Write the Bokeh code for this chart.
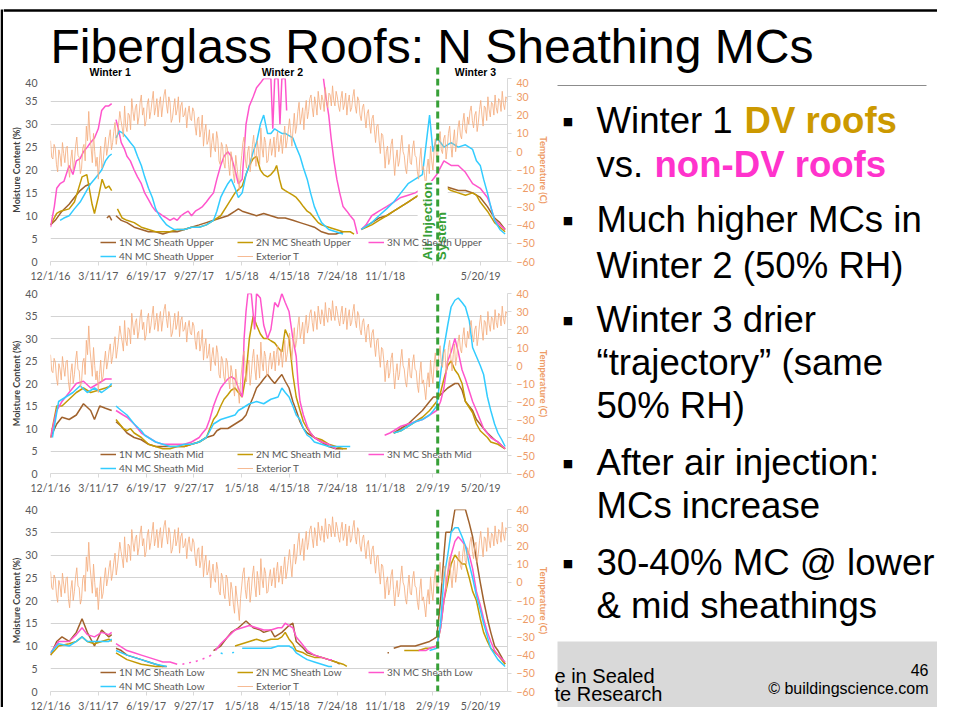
import math
from bokeh.plotting import figure
from bokeh.models import (Range1d, LinearAxis, FixedTicker, Legend, LegendItem,
                          Label, BoxAnnotation, Span)
from bokeh.layouts import column, row
from bokeh.embed import file_html
from bokeh.resources import INLINE
from bokeh.core.properties import value

N = None  # gap in a record

# ---------------- data (x = days since 12/1/16) ----------------
TICK_DAYS = [0, 100, 200, 300, 400, 500, 600, 700, 800, 900]
TICK_LABELS = ["12/1/16", "3/11/17", "6/19/17", "9/27/17", "1/5/18",
               "4/15/18", "7/24/18", "11/1/18", "2/9/19", "5/20/19"]
MC_TICKS = [0, 5, 10, 15, 20, 25, 30, 35, 40]
TEMP_TICKS = [-60, -50, -40, -30, -20, -10, 0, 10, 20, 30, 40]
DAY_MAX = 956
AIR_INJECTION_DAY = 810
WINTER_LABELS = ["Winter 1", "Winter 2", "Winter 3"]
WINTER_DAYS = [125, 485, 889]

# exterior temperature, readings every 5 days (temp_ext) and in between (temp_ext_mid)
temp_ext = [(0,6),(5,-4),(10,2),(15,-11),(20,-2),(25,5),(30,-6),(35,3),(40,-14),(45,1),(50,-5),(55,8),
            (60,-3),(65,-9),(70,4),(75,14),(80,22),(85,2),(90,10),(95,-8),(100,-15),(105,3),(110,-6),
            (115,8),(120,2),(125,12),(130,5),(135,16),(140,9),(145,22),(150,13),(155,25),(160,11),
            (165,20),(170,29),(175,17),(180,26),(185,19),(190,31),(195,24),(200,17),(205,29),(210,22),
            (215,33),(220,24),(225,19),(230,30),(235,25),(240,34),(245,21),(250,27),(255,18),(260,29),
            (265,23),(270,16),(275,27),(280,20),(285,13),(290,25),(295,17),(300,22),(305,9),(310,19),
            (315,12),(320,3),(325,15),(330,6),(335,-3),(340,10),(345,0),(350,7),(355,-7),(360,3),
            (365,-9),(370,2),(375,-13),(380,-4),(385,-17),(390,-8),(395,-21),(400,-2),(405,8),(410,-9),
            (415,3),(420,-5),(425,9),(430,-8),(435,1),(440,13),(445,-3),(450,5),(455,-5),(460,7),
            (465,2),(470,-3),(475,11),(480,4),(485,-1),(490,14),(495,6),(500,18),(505,3),(510,21),
            (515,14),(520,27),(525,19),(530,12),(535,28),(540,22),(545,31),(550,19),(555,26),(560,33),
            (565,23),(570,28),(575,35),(580,24),(585,31),(590,36),(595,25),(600,30),(605,22),(610,33),
            (615,26),(620,20),(625,31),(630,24),(635,34),(640,21),(645,28),(650,17),(655,26),(660,13),
            (665,23),(670,10),(675,20),(680,5),(685,15),(690,-1),(695,9),(700,-9),(705,3),(710,-4),
            (715,7),(720,-13),(725,1),(730,-5),(735,9),(740,-2),(745,-12),(750,4),(755,-7),(760,6),
            (765,-3),(770,-15),(775,2),(780,-8),(785,-19),(790,-4),(795,3),(800,-10),(805,7),(810,-2),
            (815,11),(820,-1),(825,9),(830,2),(835,14),(840,-3),(845,12),(850,5),(855,17),(860,7),
            (865,21),(870,10),(875,15),(880,25),(885,13),(890,22),(895,16),(900,28),(905,14),(910,24),
            (915,30),(920,19),(925,26),(930,31),(935,21),(940,28),(945,33),(950,23),(955,29)]
temp_ext_mid = [-3,4,-7,1,-8,-1,2,-9,-4,-10,3,-2,
                -12,2,-5,6,9,-6,0,-3,-5,-9,2,-2,
                8,1,11,4,15,17,8,14,21,12,22,24,
                15,27,20,14,26,18,28,20,29,26,19,31,
                26,30,16,24,20,30,25,19,24,21,18,24,
                14,18,8,20,11,4,12,5,2,11,-5,5,
                -6,4,-7,0,-12,-2,-14,-9,5,-4,0,-11,
                4,-2,6,-7,2,8,-6,3,-2,8,6,0,
                9,7,2,12,10,13,10,22,15,24,22,18,
                29,24,30,20,27,31,22,27,32,25,28,33,
                25,29,23,32,27,22,30,25,30,20,24,19,
                21,15,18,12,14,6,10,2,0,-7,4,-4,
                -4,-8,3,0,-9,-3,-6,2,-2,-11,-4,-10,
                -13,-9,-12,-5,1,-3,6,1,7,-4,10,4,
                6,0,13,9,16,12,19,22,17,20,11,23,
                20,25,17,23,27,20,24,29,22,26,30,25]

# Upper sheathing
up_1n = [(0,8),(10,9),(24,11),(39,12.5),(50,14),(62,15.5),(73,16.5),(84,17),(90,N),
         (118,9.5),(123,10),(128,9),(130,N),
         (137,10),(148,9),(160,8.5),(175,7.5),(190,7),(205,6.5),(220,6.5),(235,6),(250,6.5),(265,6.5),
         (280,7),(295,7.5),(311,8),(326,8.5),(341,9),(356,9.5),(371,10),(386,11),(393,11.5),(401,11),
         (416,10.5),(431,10),(446,10.5),(461,10),(476,9.5),(491,9.5),(507,9),(522,8.5),(537,8),(552,7.5),
         (567,6.5),(582,6),(597,6),(612,6.5),(620,N),
         (650,7),(672,8.5),(687,9.5),(703,10),(718,11),(733,12),(748,13),(763,14),(778,15),(793,15.5),
         (808,16),(823,16.5),(838,16),(853,15.5),(868,15.5),(883,15),(899,14),(914,12),(929,9.5),
         (940,8.5),(951,7)]
up_2n = [(0,8),(13,10.5),(21,11),(39,11.5),(50,13),(56,15),(66,18.5),(76,19),(87,12.5),(92,10.5),
         (101,14.5),(108,18),(115,16),(122,16.5),(128,15.5),(132,N),
         (140,11.5),(150,9.5),(160,9),(175,8.5),(190,7.5),(205,7),(220,6.5),(235,6.5),(250,6.5),(265,7),
         (280,7),(295,7.5),(311,7.5),(326,8),(341,9),(356,10),(371,12.5),(386,15),(401,16.5),(409,19),
         (416,21),(424,22.5),(431,23),(439,20),(446,19),(454,18.5),(461,19),(469,20),(473,21),(479,18),
         (484,16),(491,15.5),(499,15),(507,14.5),(514,14),(522,13),(529,12),(537,11),(544,10.5),(552,9.5),
         (560,8.5),(567,8),(582,7.5),(597,7),(612,6.5),(627,6.5),(635,6),(640,N),
         (650,7),(672,8),(687,9),(703,10),(718,11),(733,12),(748,13),(763,14),(778,15),(793,16),
         (808,16.5),(823,16.5),(838,15.5),(853,15),(868,14.5),(883,15),(891,14.5),(899,13),(914,11),
         (929,8.5),(940,7.5),(951,6.5)]
up_3n = [(0,7.5),(8,12),(13,16),(20,17),(28,17.5),(39,21),(47,19),(54,22),(62,22.5),(69,24),(77,25),
         (84,26),(92,27),(100,29),(107,33),(115,34),(122,34),(128,34.5),(132,N),
         (137,31),(142,29),(148,26),(155,24.5),(160,23),(167,22),(175,20),(182,18.5),(190,17),(197,15),
         (205,13.5),(213,12),(220,11),(228,10.5),(235,10),(243,9.5),(250,9),(258,9.5),(265,9),(273,10),
         (280,10.5),(288,11),(295,10),(303,11),(311,11.5),(318,12),(326,13),(333,14),(341,15),(348,18),
         (356,21),(363,23),(371,24),(378,23),(386,20),(393,17),(401,18),(409,30),(416,34),(424,36),
         (431,38),(439,39),(446,40),(454,40),(461,40),(465,29),(469,40),(476,40),(480,30),(484,40),
         (491,40),(494,33),(495,N),
         (571,40),(576,36),(582,32),(587,27),(593,22),(599,18),(605,15),(612,12),(620,11),(627,10),
         (635,9),(642,6),(646,N),
         (650,7),(660,8),(672,10),(687,11),(703,12),(718,13),(733,14),(748,14.5),(763,15),(778,16),
         (793,17),(808,19),(823,22),(838,21),(853,21),(868,19.5),(883,17),(899,16),(914,14),(921,12),
         (929,9),(940,8),(951,7)]
up_4n = [(20,9),(28,9.5),(39,10),(50,11.5),(62,13),(73,15),(84,17),(92,18),(100,19),(107,20),(115,22),
         (122,23),(128,23.5),(132,N),
         (137,27),(144,28.5),(152,28),(160,27),(167,26),(175,25),(182,23),(190,21),(197,18.5),(205,16),
         (213,14),(220,11.5),(228,10),(235,9),(243,8),(250,7.5),(258,7),(265,7),(280,7),(295,7.5),
         (311,7.5),(326,8),(341,9),(348,11),(356,14),(363,15.5),(371,17),(378,18),(386,16),(393,14),
         (401,15),(409,19),(416,21),(424,24),(431,26),(439,30),(446,32),(454,28),(461,28),(469,29),
         (476,28.5),(484,28),(491,28),(499,27.5),(507,27),(514,25),(522,23),(529,20.5),(537,18),(544,15),
         (552,12),(560,10),(567,8.5),(582,7),(597,6.5),(612,6),(618,N),
         (650,7),(672,8.5),(687,10),(703,11.5),(718,13),(733,15),(748,17),(763,18),(778,19),(785,25),
         (793,32),(800,24),(808,27),(816,26),(823,25),(838,26),(853,25),(868,25.5),(883,24.5),(891,22),
         (899,21),(906,18),(914,15),(921,12),(929,9),(940,7),(951,6)]

# Mid sheathing
mid_1n = [(0,8),(13,11),(24,12.5),(39,12),(54,13),(69,15.5),(84,14),(92,12),(103,15),(115,14.5),(128,14),(132,N),
          (137,11.5),(148,10.5),(160,9),(175,8),(190,7.5),(205,6.5),(220,6),(235,6),(250,6),(265,6),(280,6),
          (295,6.5),(311,7),(326,8),(341,8.5),(348,9.5),(356,10),(371,10),(386,11),(401,12),(409,13),(416,15),
          (424,17),(431,19),(439,20),(446,21),(454,22),(461,21),(469,20),(476,21),(484,22),(491,20.5),(499,19),
          (507,16),(514,14),(522,11.5),(529,10),(537,9),(552,8),(567,7),(582,6),(597,5.5),(612,5.5),(615,N),
          (718,9),(733,10),(748,11),(763,12.5),(778,14),(793,16),(801,17),(808,17),(816,17.5),(831,19),
          (846,20),(853,20),(861,18.5),(868,16),(883,14),(891,12),(906,10),(914,9),(929,7.5),(936,7),(951,5.5)]
mid_2n = [(0,8),(13,15),(24,15),(39,16.5),(54,18),(69,19),(84,18),(100,18.5),(115,19),(128,19.5),(132,N),
          (137,12),(152,10),(160,9.5),(167,10),(175,9),(190,8),(205,6.5),(220,6),(235,5.5),(250,5.5),(265,6),
          (280,6),(295,6.5),(311,7),(326,8),(341,12),(348,13),(356,15),(363,16.5),(371,17.5),(378,18.5),
          (386,19),(393,18),(401,17),(409,22),(416,30),(424,35),(431,33),(439,31),(446,30),(454,30),
          (461,29.5),(469,29),(476,28),(484,27),(491,32),(499,30),(507,22),(514,17),(522,14),(529,11.5),
          (537,10),(544,9),(552,8),(567,7.5),(582,6.5),(597,6),(612,5.5),(620,5.5),(625,N),
          (718,9),(733,9.5),(748,10.5),(763,11.5),(778,12.5),(793,14),(808,16),(816,18),(823,21),(831,24),
          (838,25),(846,23),(853,22),(861,20),(868,16),(883,13.5),(891,11),(899,9.5),(914,8),(921,7),
          (936,6.5),(951,5.5)]
mid_3n = [(0,8),(13,14),(24,16),(39,18),(54,20),(69,20.5),(84,19),(100,20),(115,21),(128,21),(132,N),
          (137,14),(152,13),(160,12.5),(175,11),(190,9),(205,8),(220,7),(235,6.5),(250,6.5),(265,6.5),
          (280,6.5),(295,7),(311,8),(318,9),(326,10),(333,12),(341,15),(348,17),(356,19),(363,20),(371,21),
          (378,21.5),(386,21),(393,19),(401,17),(405,30),(409,36),(413,40),(420,40),(427,32),(431,40),
          (439,39),(446,33),(454,30),(461,32),(469,38),(476,37),(484,40),(491,38),(499,36),(507,30),
          (514,26),(518,20),(522,16),(529,13),(537,10.5),(544,9),(552,8),(567,7),(582,6.5),(589,6),(597,5.5),(600,N),
          (699,8.5),(710,9),(718,9.5),(733,10.5),(748,11),(763,11.5),(778,12),(793,13),(808,14),(816,16),
          (823,19),(831,25),(838,27),(846,30),(853,27),(861,23),(868,21),(883,16),(891,14),(906,10),
          (921,8),(936,7),(951,5.5)]
mid_4n = [(4,8),(17,16),(32,17),(47,18),(62,19.5),(77,18),(92,19),(107,18),(120,19),(128,20),(132,N),
          (137,15),(148,14),(160,13),(175,11),(190,9.5),(197,8.5),(220,7),(235,6.5),(250,6),(265,6),
          (280,6.5),(295,6.5),(311,7),(326,8),(341,11),(356,12),(371,12.5),(386,13),(393,14),(401,14.5),
          (416,15.5),(431,16),(446,15.5),(461,16.5),(476,17),(484,19),(491,18),(499,17),(507,15),(514,13),
          (522,12),(529,10),(537,8.5),(544,8),(552,7),(567,6.5),(582,6),(597,6),(612,6),(627,6),(631,N),
          (718,9),(733,9.5),(748,10.5),(763,11.5),(778,12),(793,13),(801,14),(808,15),(816,22),(823,28),
          (831,33),(838,37),(846,38.5),(853,39),(861,38),(868,37),(876,34),(883,28),(891,26),(899,24),
          (906,22),(914,17),(921,14),(929,11),(936,9),(944,7.5),(951,6)]

# Low sheathing
low_1n = [(0,8),(13,11),(24,12),(39,11),(54,13),(66,16),(77,13),(92,10),(107,13.5),(122,12),(128,12.5),(132,N),
          (137,9.5),(148,9),(160,8),(175,7.5),(190,7),(205,6.5),(220,6),(235,5.5),(243,5.5),(246,N),
          (341,9),(356,10),(363,11),(378,13),(393,14),(409,15.5),(424,14),(439,13.5),(446,13),(461,13.5),
          (469,12),(484,13),(499,14.5),(507,15),(514,11),(529,9.5),(537,8.5),(552,8),(567,7.5),(582,7),
          (597,6.5),(605,6),(610,N),
          (705,8.5),(708,8.5),(709,N),
          (718,9.5),(733,10),(748,10),(763,10),(778,10.5),(793,11),(801,11.5),(808,12),(816,20),(823,30),
          (827,35),(838,35),(846,40),(853,40),(861,40),(868,40),(876,37),(883,34),(891,29),(899,24),
          (906,20),(914,16),(921,13),(929,10),(936,9),(944,7.5),(951,6)]
low_2n = [(0,8),(17,10),(39,10.5),(54,11),(66,12),(77,11),(92,10.5),(107,11),(122,11.5),(128,11),(132,N),
          (137,8.5),(160,7),(190,6),(220,5.5),(235,5.5),(240,N),
          (386,10),(401,10.5),(416,11),(431,11.5),(446,11),(461,11.5),(476,11.5),(484,12),(491,13),(499,11.5),
          (507,10.5),(514,9),(529,8.5),(537,8),(552,7.5),(567,7.5),(582,7),(597,6.5),(612,6),(620,5.5),(624,N),
          (740,9),(755,9),(770,9),(785,9.5),(793,9.5),(808,10),(816,14),(823,20),(831,24),(838,28),(846,30),
          (853,29),(861,28),(868,28),(876,25),(883,22),(891,20),(899,16),(906,13),(914,11),(921,9.5),
          (936,8),(951,6)]
low_3n = [(0,8.5),(17,11),(39,11),(54,12.5),(66,14),(77,12.5),(92,12),(107,13),(122,12.5),(128,13),(132,N),
          (137,10.5),(160,9),(175,8.5),(190,8),(205,7.5),(220,7),(235,6.5),(250,6.5),(265,6),(270,N),
          (276,6),(280,6.1),(282,N),(290,6.3),(294,6.4),(296,N),(304,6.6),(308,6.8),(310,N),
          (318,7.1),(322,7.3),(324,N),(332,7.7),(336,8),(338,N),
          (345,9),(356,10.5),(371,12),(386,13.5),(401,14),(416,14.5),(431,14),(446,13.5),(461,13.5),(476,14),
          (484,14),(491,15),(499,14.5),(507,14),(514,12),(522,11),(537,9),(552,8),(567,7.5),(582,7),(589,7),(593,N),
          (770,9),(785,9),(793,9.5),(808,10),(816,14),(823,20),(831,26),(838,30),(846,33),(853,34),(861,33),
          (868,32),(876,30),(883,27),(891,22),(899,19),(906,16),(914,13),(921,11),(929,9),(936,8),(951,6.5)]
low_4n = [(0,8.5),(17,10.5),(39,10),(54,11),(66,12),(77,11),(92,11),(107,11),(122,11),(128,11.5),(132,N),
          (137,9),(160,8),(190,7),(220,6),(243,5.5),(246,N),
          (356,8.5),(360,8.3),(362,N),(380,8.5),(384,8.6),(386,N),
          (401,9.5),(416,9.5),(431,9.5),(446,9.5),(461,9.5),(476,10),(491,10),(499,10),(507,9.5),(514,8.5),
          (529,7.5),(537,7),(552,6.5),(567,6),(582,5.5),(589,5.5),(592,N),
          (793,9),(808,9.5),(816,15),(823,25),(831,30),(838,35),(846,36),(853,36),(861,34),(868,32),(876,28),
          (883,25),(891,21),(899,18),(906,15),(914,12),(921,9.5),(936,7),(951,5.5)]

UP_NAMES = ["1N MC Sheath Upper", "2N MC Sheath Upper", "3N MC Sheath Upper", "4N MC Sheath Upper"]
MID_NAMES = ["1N MC Sheath Mid", "2N MC Sheath Mid", "3N MC Sheath Mid", "4N MC Sheath Mid"]
LOW_NAMES = ["1N MC Sheath Low", "2N MC Sheath Low", "3N MC Sheath Low", "4N MC Sheath Low"]
TEMP_NAME = "Exterior T"

BULLET_LINES = ["Winter 1 ", "vs. ", "Much higher MCs in", "Winter 2 (50% RH)", "Winter 3 drier",
                "\u201ctrajectory\u201d (same", "50% RH)", "After air injection:", "MCs increase",
                "30-40% MC @ lower", "& mid sheathings"]

# ---------------- styles ----------------
SERIES_COLORS = ["#A0622D", "#C49A06", "#FF55CC", "#33CCFF"]
TEMP_COLOR = "#F4AE80"
AXIS_GRAY = "#D9D9D9"
GRID_GRAY = "#D3D3D3"
LABEL_GRAY = "#595959"
ORANGE = "#EE9B66"
GREEN = "#37A037"
CFONT = "Lato"
SFONT = "Liberation Sans"
BASE_SHIFT = 0.354   # anchor offset (em) above the baseline for text glyphs
FRAME_W = 457
FRAME_LEFT = 47      # inside the chart column (a 3 px frame bar sits to its left)
TOP_H = 78           # height of the title strip


def split(pairs):
    xs = [p[0] for p in pairs]
    ys = [float("nan") if p[1] is None else p[1] for p in pairs]
    return xs, ys


def temp_series():
    pts = []
    for (d, v), m in zip(temp_ext, temp_ext_mid):
        pts.append((d, v))
        pts.append((d + 2.5, m))
    return split(pts)


def make_chart(series, names, top_b, frame_h, bot_b, first=False):
    p = figure(frame_width=FRAME_W, frame_height=frame_h,
               min_border_left=FRAME_LEFT, min_border_right=46,
               min_border_top=top_b, min_border_bottom=bot_b,
               x_range=Range1d(0, DAY_MAX), y_range=Range1d(0, 40),
               output_backend="svg", toolbar_location=None, title=None,
               background_fill_color="white", border_fill_color="white")
    p.outline_line_color = None
    p.extra_y_ranges = {"temp": Range1d(-60, 40)}

    xa = p.xaxis[0]
    xa.ticker = FixedTicker(ticks=TICK_DAYS)
    overrides = {d: l for d, l in zip(TICK_DAYS, TICK_LABELS)}
    if first:
        overrides[800] = ""   # covered by the air-injection note in the original
    xa.major_label_overrides = overrides
    xa.axis_line_color = AXIS_GRAY
    xa.major_tick_line_color = AXIS_GRAY
    xa.major_tick_out = 4
    xa.major_tick_in = 0
    xa.minor_tick_line_color = None
    xa.major_label_text_font = CFONT
    xa.major_label_text_font_size = "10.5px"
    xa.major_label_text_color = LABEL_GRAY
    xa.major_label_standoff = 4

    ya = p.yaxis[0]
    ya.ticker = FixedTicker(ticks=MC_TICKS)
    ya.axis_line_color = None
    ya.major_tick_line_color = None
    ya.minor_tick_line_color = None
    ya.major_label_text_font = CFONT
    ya.major_label_text_font_size = "10.5px"
    ya.major_label_text_color = LABEL_GRAY
    ya.major_label_standoff = 7
    ya.axis_label = "Moisture Content (%)"
    ya.axis_label_text_font = CFONT
    ya.axis_label_text_font_style = "bold"
    ya.axis_label_text_font_size = "9px"
    ya.axis_label_text_color = "#404040"
    ya.axis_label_standoff = 0

    ra = LinearAxis(y_range_name="temp", ticker=FixedTicker(ticks=TEMP_TICKS),
                    axis_label="Temperature (C)")
    ra.axis_line_color = AXIS_GRAY
    ra.major_tick_line_color = AXIS_GRAY
    ra.major_tick_out = 4
    ra.major_tick_in = 0
    ra.minor_tick_line_color = None
    ra.major_label_text_font = CFONT
    ra.major_label_text_font_size = "10.5px"
    ra.major_label_text_color = ORANGE
    ra.major_label_standoff = 5
    ra.axis_label_text_font = CFONT
    ra.axis_label_text_font_style = "bold"
    ra.axis_label_text_font_size = "9.5px"
    ra.axis_label_text_color = ORANGE
    ra.axis_label_standoff = 0
    ra.axis_label_orientation = "vertical"
    p.add_layout(ra, "right")

    p.xgrid.visible = False
    p.ygrid[0].ticker = FixedTicker(ticks=MC_TICKS[1:])
    p.ygrid[0].grid_line_color = GRID_GRAY

    rs = []
    for pairs, col in zip(series, SERIES_COLORS):
        xs, ys = split(pairs)
        rs.append(p.line(xs, ys, line_color=col, line_width=1.5))
    tx, ty = temp_series()
    tr = p.line(tx, ty, y_range_name="temp", line_color=TEMP_COLOR, line_width=1.0, line_alpha=0.85)

    common = dict(label_text_font=CFONT, label_text_font_size="10px", label_text_color=LABEL_GRAY,
                  label_height=12, glyph_height=12, glyph_width=16, label_standoff=3, spacing=2,
                  padding=0, margin=0, border_line_alpha=0, background_fill_alpha=0)
    p.add_layout(Legend(items=[LegendItem(label=names[0], renderers=[rs[0]]),
                               LegendItem(label=names[3], renderers=[rs[3]])],
                        location=(50, -1), **common))
    p.add_layout(Legend(items=[LegendItem(label=names[1], renderers=[rs[1]]),
                               LegendItem(label=TEMP_NAME, renderers=[tr])],
                        location=(187, -1), **common))
    p.add_layout(Legend(items=[LegendItem(label=names[2], renderers=[rs[2]])],
                        location=(318, 13), **common))

    if first:
        p.add_layout(BoxAnnotation(left=768, right=831, bottom=0, top=17.6,
                                   fill_color="white", fill_alpha=1.0, line_color=None))
        for txt, dx in (("Air Injection", AIR_INJECTION_DAY - 21), ("System", AIR_INJECTION_DAY + 8)):
            p.add_layout(Label(x=dx, y=0.3, text=txt, angle=90, angle_units="deg",
                               text_align="left", text_baseline="middle",
                               text_font=SFONT, text_font_style="bold", text_font_size="13.5px",
                               text_color=GREEN))
    p.add_layout(Span(location=AIR_INJECTION_DAY, dimension="height",
                      line_color=GREEN, line_width=3, line_dash="7 4"))
    return p


c1 = make_chart([up_1n, up_2n, up_3n, up_4n], UP_NAMES, 0, 183, 21, first=True)
c2 = make_chart([mid_1n, mid_2n, mid_3n, mid_4n], MID_NAMES, 9, 180, 21)
c3 = make_chart([low_1n, low_2n, low_3n, low_4n], LOW_NAMES, 13, 182, 20)


def blank(w, h):
    f = figure(width=w, height=h, x_range=Range1d(0, w), y_range=Range1d(h, 0),
               min_border=0, toolbar_location=None, output_backend="svg", title=None,
               x_axis_type=None, y_axis_type=None,
               background_fill_color="white", border_fill_color="white")
    f.grid.visible = False
    f.outline_line_color = None
    return f


def base_y(baseline, size):
    return baseline - BASE_SHIFT * size


def day_px(day):
    return FRAME_LEFT + day * FRAME_W / DAY_MAX


# ---------------- left frame bar ----------------
bar = blank(3, 707)
bar.quad(left=[0], right=[3], top=[9], bottom=[707], fill_color="black", line_color=None)

# ---------------- title strip ----------------
tf = blank(934, TOP_H)
tf.add_layout(Span(location=10, dimension="width", line_color="black", line_width=2.5))
tf.text(x=[47], y=[base_y(63, 48)], text=["Fiberglass Roofs: N Sheathing MCs"], text_font=value(SFONT),
        text_font_size="48px", text_baseline="alphabetic", text_color="black")
tf.text(x=[day_px(d) for d in WINTER_DAYS], y=[71] * 3, text=WINTER_LABELS, text_font=value(SFONT),
        text_font_style="bold", text_font_size="10.5px", text_align="center",
        text_baseline="middle", text_color="black")
ax = day_px(AIR_INJECTION_DAY)
tf.segment(x0=[ax], y0=[67], x1=[ax], y1=[TOP_H], line_color=GREEN, line_width=3, line_dash="7 4")

# ---------------- text panel ----------------
tp = blank(384, 707 - TOP_H)
tp.segment(x0=[4], y0=[85 - TOP_H], x1=[373], y1=[85 - TOP_H], line_color="#8C8C8C", line_width=1)
tp.quad(left=[4], right=[384], top=[641 - TOP_H], bottom=[707 - TOP_H], fill_color="#D9D9D9",
        line_color=None)

S = 36.6
baselines = [133, 177, 232, 278, 332, 375, 418, 475, 518, 575, 618]
ys = [base_y(b, S) - TOP_H for b in baselines]
tp.text(x=[43] * len(BULLET_LINES), y=ys, text=BULLET_LINES, text_font=value(SFONT),
        text_font_size="36.6px", text_baseline="alphabetic", text_color="black")
tp.text(x=[191], y=[ys[0]], text=["DV roofs"], text_font=value(SFONT), text_font_style="bold",
        text_font_size="36.6px", text_baseline="alphabetic", text_color="#CC9900")
tp.text(x=[101], y=[ys[1]], text=["non-DV roofs"], text_font=value(SFONT), text_font_style="bold",
        text_font_size="36.6px", text_baseline="alphabetic", text_color="#FF33CC")
bullet_y = [baselines[i] - 11.6 - TOP_H for i in (0, 2, 4, 7, 9)]
tp.text(x=[14.5] * 5, y=bullet_y, text=["\u25a0"] * 5, text_font=value("DejaVu Sans"),
        text_font_size="11px", text_align="center", text_baseline="middle", text_color="black")

tp.text(x=[1, 1], y=[base_y(683, 20) - TOP_H, base_y(701, 20) - TOP_H], text=["e in Sealed", "te Research"],
        text_font=value(SFONT), text_font_size="20px", text_baseline="alphabetic", text_color="black")
tp.text(x=[375, 375], y=[base_y(675, 16) - TOP_H, base_y(694, 16) - TOP_H],
        text=["46", "\u00a9 buildingscience.com"], text_font=value(SFONT),
        text_font_size="16px", text_align="right", text_baseline="alphabetic", text_color="black")

layout = row(bar, column(tf, row(column(c1, c2, c3), tp)))

open("out.html", "w").write(file_html(layout, INLINE))
